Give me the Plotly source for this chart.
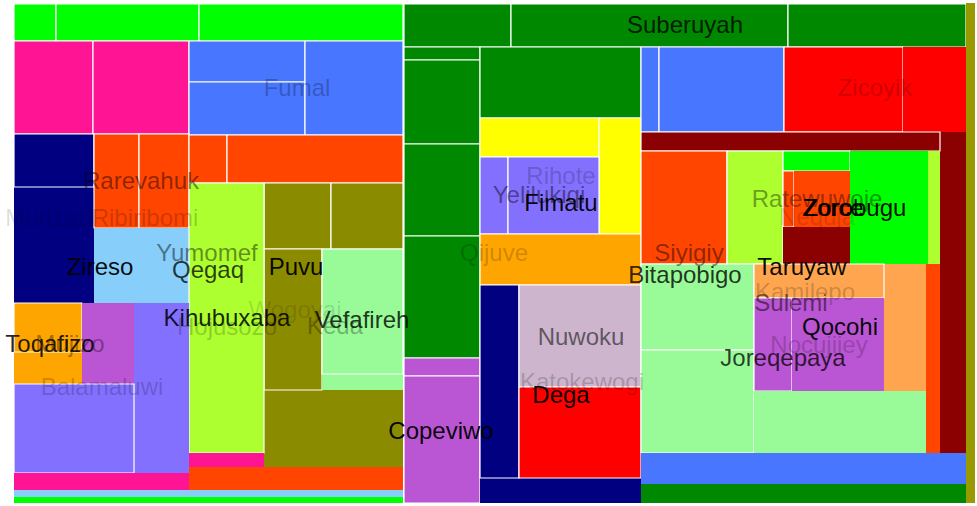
import plotly.graph_objects as go

# Cell colours
LIME = "#00ff00"; DKGREEN = "#008800"; PINK = "#ff1493"; BLUE = "#4876ff"
NAVY = "#000080"; ORED = "#ff4500"; SKY = "#87cefa"; GYELLOW = "#adff2f"
OLIVE = "#8b8b00"; PALE = "#98fb98"; ORANGE = "#ffa500"; ORCHID = "#ba55d3"
SLATE = "#8470ff"; YELLOW = "#ffff00"; THISTLE = "#cdb5cd"; RED = "#ff0000"
DKRED = "#8b0000"; SANDY = "#ffa54f"; OLIVE2 = "#999900"

# treemap cells: (x0, x1, y0, y1, colour, leaf)  -- tiling units
left_cells = [
    (14, 56, 4, 41, LIME, 1), (56, 199, 4, 41, LIME, 1), (199, 403, 4, 41, LIME, 1),
    (14, 93, 41, 134, PINK, 1), (93, 189, 41, 134, PINK, 1),
    (189, 305, 41, 82, BLUE, 1), (189, 305, 82, 135, BLUE, 1), (305, 403, 41, 135, BLUE, 1),
    (14, 94, 134, 303, NAVY, 0), (14, 94, 134, 187, NAVY, 1),
    (94, 139, 134, 228, ORED, 1), (139, 189, 134, 228, ORED, 1),
    (189, 227, 135, 183, ORED, 1), (227, 403, 135, 183, ORED, 1),
    (94, 189, 228, 303, SKY, 0),
    (264, 403, 183, 467, OLIVE, 0), (264, 331, 183, 249, OLIVE, 1), (331, 403, 183, 249, OLIVE, 1),
    (264, 322, 249, 390, OLIVE, 1),
    (322, 403, 249, 390, PALE, 0), (322, 403, 249, 374, PALE, 1),
    (189, 264, 183, 453, GYELLOW, 1), (189, 264, 453, 467, PINK, 0),
    (189, 403, 467, 490, ORED, 0),
    (14, 189, 303, 473, SLATE, 0), (14, 82, 303, 384, ORANGE, 0), (14, 82, 303, 352, ORANGE, 1),
    (82, 134, 303, 384, ORCHID, 0), (14, 134, 384, 473, SLATE, 1),
    (14, 189, 473, 490, PINK, 0), (14, 403, 490, 497, SKY, 0), (14, 403, 497, 503, LIME, 0),
]
middle_cells = [
    (404, 511, 4, 47, DKGREEN, 1), (511, 788, 4, 47, DKGREEN, 1), (788, 966, 4, 47, DKGREEN, 1),
    (404, 480, 47, 358, DKGREEN, 0), (404, 480, 47, 60, DKGREEN, 1), (404, 480, 60, 144, DKGREEN, 1),
    (404, 480, 144, 236, DKGREEN, 1), (404, 480, 236, 358, DKGREEN, 1),
    (404, 480, 358, 503, ORCHID, 0), (404, 480, 358, 376, ORCHID, 1), (404, 480, 376, 503, ORCHID, 1),
    (480, 641, 47, 118, DKGREEN, 1),
    (480, 641, 118, 234, YELLOW, 0), (480, 599, 118, 157, YELLOW, 1), (599, 641, 118, 234, YELLOW, 1),
    (480, 508, 157, 234, SLATE, 1), (508, 599, 157, 234, SLATE, 1),
    (480, 641, 234, 285, ORANGE, 1),
    (480, 641, 285, 503, NAVY, 0), (480, 519, 285, 478, NAVY, 1),
    (519, 641, 285, 387, THISTLE, 1), (519, 641, 387, 478, RED, 1),
]
right_cells = [
    (641, 659, 47, 132, BLUE, 1), (659, 784, 47, 132, BLUE, 1),
    (784, 903, 47, 132, RED, 1), (903, 966, 47, 132, RED, 0),
    (940, 966, 132, 453, DKRED, 0), (641, 940, 132, 151, DKRED, 1),
    (641, 727, 151, 264, ORED, 1), (727, 783, 151, 264, GYELLOW, 1),
    (783, 850, 151, 171, LIME, 1), (783, 794, 171, 227, ORED, 1), (794, 850, 171, 227, ORED, 0),
    (783, 850, 227, 264, DKRED, 0), (850, 928, 151, 264, LIME, 0), (928, 940, 151, 264, GYELLOW, 0),
    (641, 754, 264, 350, PALE, 1), (641, 754, 350, 453, PALE, 1),
    (754, 926, 264, 391, SANDY, 0), (754, 884, 264, 298, SANDY, 1),
    (754, 792, 298, 391, ORCHID, 1), (792, 884, 298, 391, ORCHID, 0),
    (754, 926, 391, 453, PALE, 0), (926, 940, 264, 453, ORED, 0),
    (641, 966, 453, 484, BLUE, 0), (641, 966, 484, 503, DKGREEN, 0),
    (966, 975, 3, 503, OLIVE2, 0),
]

label_text = ["Suberuyah", "Fumal", "Zicoyik", "Rarevahuk", "Ribiribomi", "Murizazi",
              "Yumomef", "Zireso", "Qegaq", "Puvu", "Hojusozo", "Wogoyai", "Kihubuxaba",
              "Keda", "Vefafireh", "Mujizo", "Toqafizo", "Balamaluwi", "Copeviwo",
              "Qijuve", "Rihote", "Yelilukiqi", "Fimatu", "Nuwoku", "Katokewogi", "Dega",
              "Siyigiy", "Bitapobigo", "Ratewuwoje", "Nequja", "Zorce", "Zorobugu",
              "Taruyaw", "Kamilepo", "Sulemi", "Qocohi", "Nocujiiey", "Joreqepaya"]
label_x = [685, 297, 875, 141, 145, 50, 207, 100, 208, 296, 227, 295, 227,
           335, 362, 70, 50, 102, 441, 494, 561, 539, 561, 581, 582, 561,
           689, 685, 817, 817, 833, 855, 802, 805, 791, 840, 819, 783]
label_y = [27, 90, 90, 183, 220, 220, 255, 269, 272, 269, 329, 312, 320,
           328, 322, 346, 346, 389, 433, 255, 178, 197, 205, 339, 384, 397,
           255, 277, 201, 219, 210, 210, 269, 294, 305, 329, 347, 360]
label_alpha = [0.8, 0.25, 0.2, 0.45, 0.2, 0.15, 0.45, 0.95, 0.75, 0.95, 0.2, 0.12, 0.85,
               0.3, 0.8, 0.35, 0.85, 0.2, 0.95, 0.2, 0.2, 0.45, 0.95, 0.55, 0.2, 0.95,
               0.45, 0.8, 0.4, 0.15, 0.95, 0.95, 0.95, 0.2, 0.5, 0.95, 0.2, 0.75]

fig = go.Figure()
for cells in (left_cells, middle_cells, right_cells):
    for x0, x1, y0, y1, col, leaf in cells:
        fig.add_trace(go.Scatter(
            x=[x0, x1, x1, x0, x0], y=[y0, y0, y1, y1, y0],
            mode="lines", fill="toself", fillcolor=col,
            line=dict(color="white" if leaf else col, width=1.2 if leaf else 0),
            hoverinfo="skip", showlegend=False))

for t, x, y, a in zip(label_text, label_x, label_y, label_alpha):
    fig.add_trace(go.Scatter(
        x=[x], y=[y], mode="text", text=[t], textposition="middle center",
        textfont=dict(family="Liberation Sans, Arial, sans-serif", size=24,
                      color=f"rgba(0,0,0,{a})"),
        hoverinfo="skip", showlegend=False))

fig.update_layout(
    width=977, height=506, margin=dict(l=0, r=0, t=0, b=0),
    paper_bgcolor="white", plot_bgcolor="white",
    xaxis=dict(range=[0, 977], visible=False, fixedrange=True),
    yaxis=dict(range=[506, 0], visible=False, fixedrange=True),
)
fig.write_html("out.html")
